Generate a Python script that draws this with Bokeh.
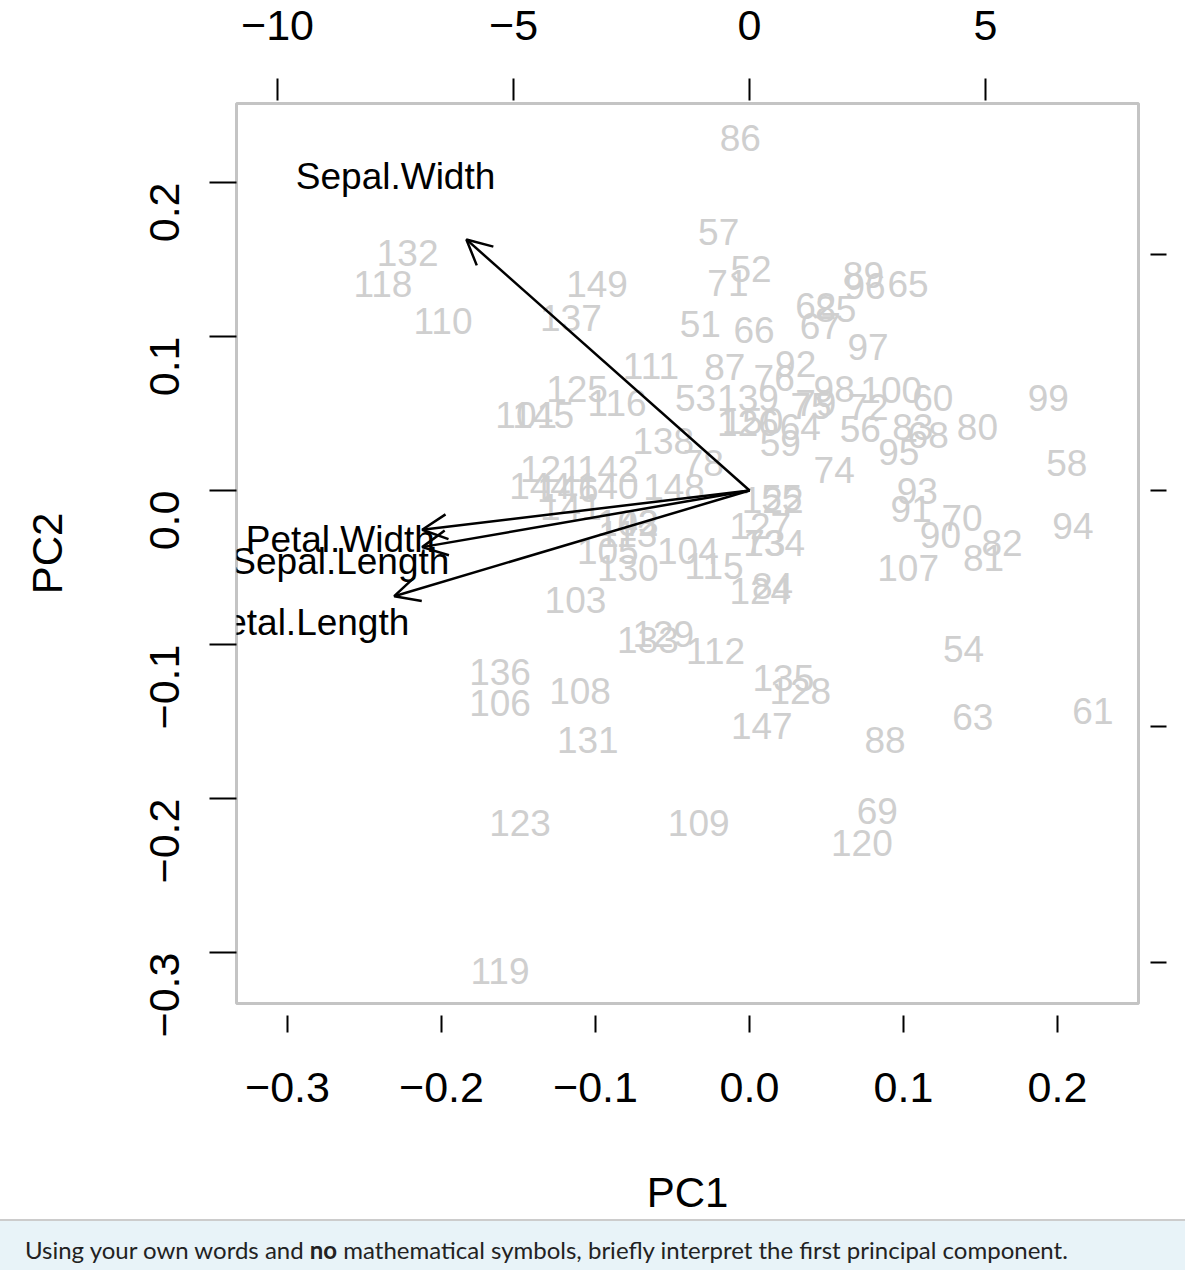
import math
from bokeh.plotting import figure
from bokeh.models import (Range1d, LinearAxis, FixedTicker, Arrow, OpenHead,
                          ColumnDataSource, Div)
from bokeh.layouts import column
from bokeh.core.properties import value
from bokeh.embed import file_html
from bokeh.resources import INLINE

# ---- data ----
obs_ids = [51, 52, 53, 54, 55, 56, 57, 58, 59, 60,
           61, 62, 63, 64, 65, 66, 67, 68, 69, 70,
           71, 72, 73, 74, 75, 76, 78, 79, 80,
           81, 82, 83, 84, 85, 86, 87, 88, 89, 90,
           91, 92, 93, 94, 95, 96, 97, 98, 99, 100,
           101, 102, 103, 104, 105, 106, 107, 108, 109, 110,
           111, 112, 113, 115, 116, 118, 119, 120,
           121, 122, 123, 124, 125, 126, 127, 128, 129, 130,
           131, 132, 133, 134, 135, 136, 137, 138, 139, 140,
           141, 142, 143, 144, 145, 146, 147, 148, 149, 150]
pc1 = [-0.032, 0.001, -0.035, 0.139, 0.021, 0.072, -0.020, 0.206, 0.020, 0.119,
       0.223, 0.043, 0.145, 0.033, 0.103, 0.003, 0.046, 0.116, 0.083, 0.138,
       -0.014, 0.077, 0.010, 0.055, 0.040, 0.016, -0.030, 0.043, 0.148,
       0.152, 0.164, 0.106, 0.015, 0.056, -0.006, -0.016, 0.088, 0.074, 0.124,
       0.105, 0.030, 0.109, 0.210, 0.097, 0.075, 0.077, 0.055, 0.194, 0.092,
       -0.145, -0.079, -0.113, -0.040, -0.092, -0.162, 0.103, -0.110, -0.033, -0.199,
       -0.064, -0.022, -0.079, -0.023, -0.086, -0.238, -0.162, 0.073,
       -0.129, 0.015, -0.149, 0.007, -0.112, -0.001, 0.007, 0.033, -0.056, -0.079,
       -0.105, -0.222, -0.066, 0.016, 0.022, -0.162, -0.116, -0.056, -0.001, -0.092,
       -0.116, -0.092, -0.079, -0.136, -0.134, -0.118, 0.008, -0.049, -0.099, 0.002]
pc2 = [0.108, 0.144, 0.060, -0.103, -0.005, 0.040, 0.168, 0.018, 0.031, 0.060,
       -0.143, 0.120, -0.147, 0.041, 0.134, 0.104, 0.107, 0.036, -0.208, -0.018,
       0.135, 0.054, -0.034, 0.013, 0.055, 0.073, 0.018, 0.057, 0.041,
       -0.044, -0.034, 0.041, -0.062, 0.118, 0.229, 0.080, -0.162, 0.140, -0.029,
       -0.012, 0.082, 0.000, -0.023, 0.025, 0.133, 0.093, 0.066, 0.060, 0.065,
       0.049, -0.021, -0.071, -0.039, -0.039, -0.138, -0.050, -0.130, -0.216, 0.110,
       0.081, -0.104, -0.028, -0.049, 0.057, 0.134, -0.312, -0.229,
       0.014, -0.006, -0.216, -0.065, 0.066, 0.044, -0.023, -0.130, -0.093, -0.050,
       -0.162, 0.154, -0.097, -0.034, -0.122, -0.118, 0.112, 0.032, 0.060, 0.003,
       -0.011, 0.014, -0.021, 0.003, 0.049, 0.001, -0.153, 0.002, 0.134, 0.045]

var_names = ["Sepal.Length", "Sepal.Width", "Petal.Length", "Petal.Width"]
load1 = [-8.67, -7.50, -9.41, -8.67]
load2 = [-1.50, 6.65, -2.80, -1.04]

pc_ticks = [-0.3, -0.2, -0.1, 0.0, 0.1, 0.2]
pc_tick_labels = ["\u22120.3", "\u22120.2", "\u22120.1", "0.0", "0.1", "0.2"]
load_ticks = [-10, -5, 0, 5]
load_tick_labels = ["\u221210", "\u22125", "0", "5"]

FONT = "Liberation Sans"

p = figure(width=1200, height=1219,
           x_range=Range1d(-0.3331, 0.2526), y_range=Range1d(-0.3331, 0.2513),
           output_backend="svg", toolbar_location=None,
           x_axis_location=None, y_axis_location=None,
           min_border_left=236, min_border_right=62,
           min_border_top=103, min_border_bottom=216)
p.extra_x_ranges = {"load": Range1d(-10.87, 8.24)}
p.extra_y_ranges = {"load": Range1d(-10.87, 8.20)}
p.grid.visible = False
p.outline_line_color = "#c4c4c4"
p.outline_line_width = 3
p.background_fill_color = "white"
p.border_fill_color = "white"


def style_axis(ax, tin, tout, standoff):
    ax.axis_line_color = None
    ax.major_tick_line_color = "black"
    ax.major_tick_line_width = 2
    ax.major_tick_in = tin
    ax.major_tick_out = tout
    ax.minor_tick_line_color = None
    ax.major_label_standoff = standoff
    ax.major_label_text_font = FONT
    ax.major_label_text_font_size = "43px"
    ax.major_label_text_color = "black"
    ax.axis_label_text_font = FONT
    ax.axis_label_text_font_size = "42px"
    ax.axis_label_text_font_style = "normal"
    ax.axis_label_text_color = "black"


bottom = LinearAxis(ticker=FixedTicker(ticks=pc_ticks),
                    major_label_overrides=dict(zip(pc_ticks, pc_tick_labels)),
                    axis_label="PC1")
style_axis(bottom, -12, 29, 40)
bottom.axis_label_standoff = 64
p.add_layout(bottom, "below")

left = LinearAxis(ticker=FixedTicker(ticks=pc_ticks),
                  major_label_overrides=dict(zip(pc_ticks, pc_tick_labels)),
                  major_label_orientation=math.pi / 2,
                  axis_label="PC2")
style_axis(left, 0, 27, 45)
left.axis_label_standoff = 62
p.add_layout(left, "left")

top = LinearAxis(x_range_name="load", ticker=FixedTicker(ticks=load_ticks),
                 major_label_overrides=dict(zip(load_ticks, load_tick_labels)))
style_axis(top, -3, 25, 39)
p.add_layout(top, "above")

right = LinearAxis(y_range_name="load", ticker=FixedTicker(ticks=load_ticks),
                   major_label_overrides=dict(zip(load_ticks, load_tick_labels)))
style_axis(right, -12, 28, 10)
right.major_label_text_color = None
p.add_layout(right, "right")

src = ColumnDataSource(dict(x=pc1, y=pc2, t=[str(i) for i in obs_ids]))
p.text(x="x", y="y", text="t", source=src, text_font=value(FONT),
       text_font_size="37px", text_color="#cfcfcf",
       text_align="center", text_baseline="middle")

for name, lx, ly in zip(var_names, load1, load2):
    p.add_layout(Arrow(end=OpenHead(size=25, line_width=2.5, line_color="black"),
                       x_start=0, y_start=0, x_end=0.8 * lx, y_end=0.8 * ly,
                       x_range_name="load", y_range_name="load",
                       line_width=2.5, line_color="black"))

vsrc = ColumnDataSource(dict(x=load1, y=load2, t=var_names))
p.text(x="x", y="y", text="t", source=vsrc, x_range_name="load", y_range_name="load",
       text_font=value(FONT), text_font_size="37px", text_color="black",
       text_align="center", text_baseline="middle")

div = Div(text='Using your own words and <b>no</b> mathematical symbols, briefly interpret the first principal component.',
          width=1185, height=51, margin=(0, 0, 0, 0),
          styles={"background-color": "#e8f3f8", "font-family": "Lato",
                  "font-size": "24px", "color": "#222222",
                  "padding-left": "25px", "padding-top": "16px",
                  "line-height": "26px", "border-top": "2px solid #cccccc",
                  "box-sizing": "border-box"})

layout = column(p, div, spacing=0)
open("out.html", "w").write(file_html(layout, INLINE))
